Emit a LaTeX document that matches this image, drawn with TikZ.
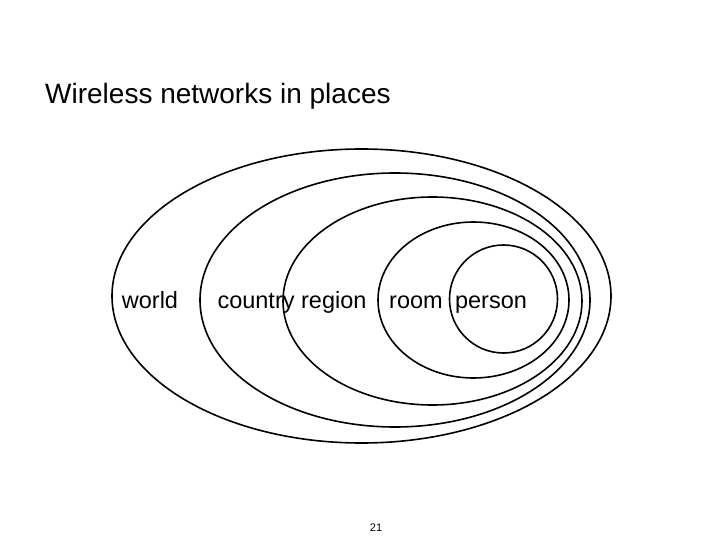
\documentclass[tikz,border=0pt]{standalone}
\usepackage{fontspec}
\setmainfont{Liberation Sans}
\begin{document}
\begin{tikzpicture}[x=1pt,y=-1pt,
  ring/.style={draw=black,line width=1.6pt},
  lbl/.style={font=\fontsize{23.5}{28}\selectfont,inner sep=0pt,anchor=base}]
\useasboundingbox (0,0) rectangle (720,540);
\draw[ring] (361.5,296) ellipse [x radius=249.5, y radius=147];
\draw[ring] (395,300) ellipse [x radius=195, y radius=127];
\draw[ring] (432.5,301) ellipse [x radius=149.5, y radius=104];
\draw[ring] (473.5,300) ellipse [x radius=95.5, y radius=78];
\draw[ring] (503.5,299) ellipse [x radius=54, y radius=54];
\node[anchor=base west,font=\fontsize{28}{32}\selectfont,inner sep=0pt] (title) at (45,104) {Wireless networks in places};
\node[lbl] (world) at (150,308) {world};
\node[lbl] (country) at (292,308) {country region};
\node[lbl] (room) at (416,308) {room};
\node[lbl] (person) at (491,308) {person};
\node[font=\fontsize{11}{13}\selectfont,inner sep=0pt,anchor=base] (page) at (376,531) {21};
\end{tikzpicture}
\end{document}
